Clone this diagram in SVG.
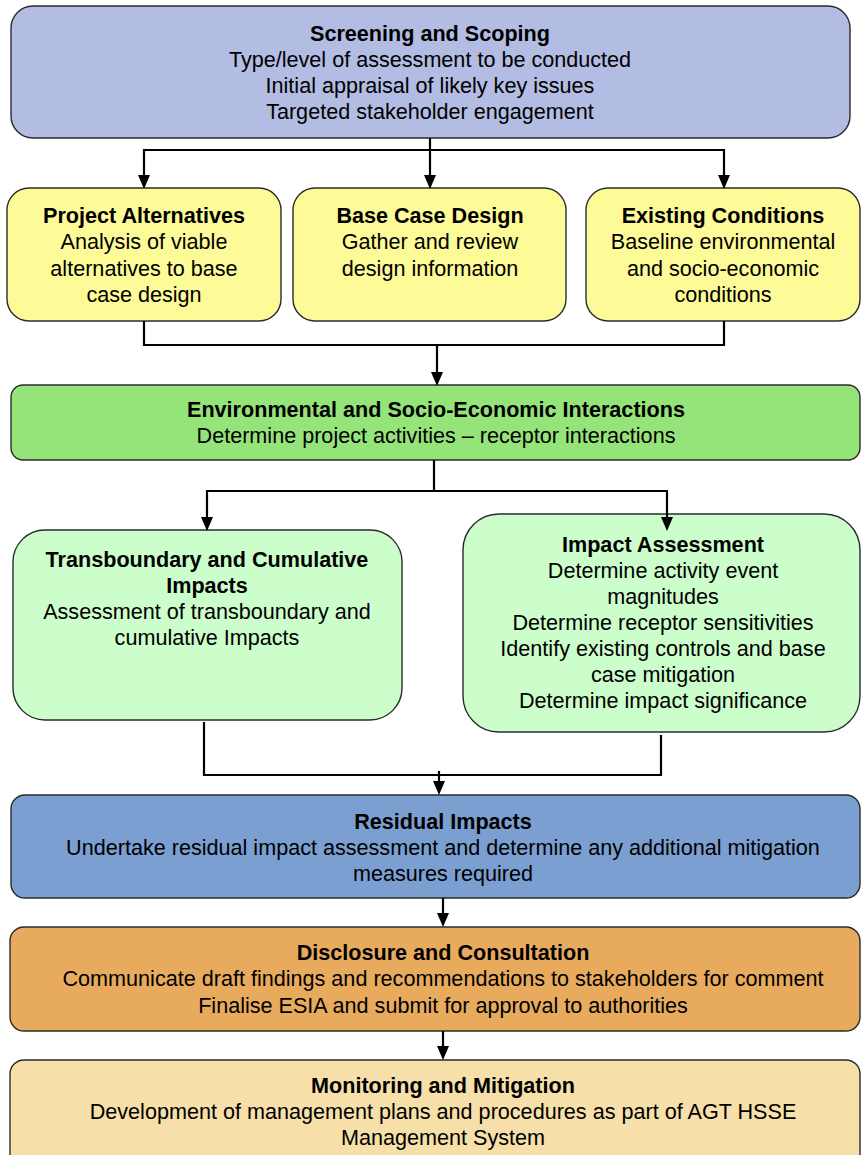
<svg xmlns="http://www.w3.org/2000/svg" width="861" height="1155" viewBox="0 0 861 1155">
  <style>
    .box { stroke: #2b2b2b; stroke-width: 1.4; }
    .t { font-family: "Liberation Sans", Arial, sans-serif; font-size: 21.6px; fill: #000; text-anchor: middle; }
    .b { font-weight: bold; }
    .wire { fill: none; stroke: #000; stroke-width: 2.2; }
  </style>
  <rect width="861" height="1155" fill="#fff"/>

  <g id="screening">
    <rect class="box" x="11" y="6" width="839" height="132" rx="22" fill="#b3bce3"/>
    <text class="t b" x="430" y="41">Screening and Scoping</text>
    <text class="t" x="430" y="67">Type/level of assessment to be conducted</text>
    <text class="t" x="430" y="93">Initial appraisal of likely key issues</text>
    <text class="t" x="430" y="119">Targeted stakeholder engagement</text>
  </g>

  <g id="alternatives">
    <rect class="box" x="7" y="188" width="274" height="133" rx="22" fill="#fdfa98"/>
    <text class="t b" x="144" y="223">Project Alternatives</text>
    <text class="t" x="144" y="249">Analysis of viable</text>
    <text class="t" x="144" y="276">alternatives to base</text>
    <text class="t" x="144" y="302">case design</text>
  </g>

  <g id="basecase">
    <rect class="box" x="293" y="188" width="273" height="133" rx="22" fill="#fdfa98"/>
    <text class="t b" x="430" y="223">Base Case Design</text>
    <text class="t" x="430" y="249">Gather and review</text>
    <text class="t" x="430" y="276">design information</text>
  </g>

  <g id="existing">
    <rect class="box" x="586" y="188" width="274" height="133" rx="22" fill="#fdfa98"/>
    <text class="t b" x="723" y="223">Existing Conditions</text>
    <text class="t" x="723" y="249">Baseline environmental</text>
    <text class="t" x="723" y="276">and socio-economic</text>
    <text class="t" x="723" y="302">conditions</text>
  </g>

  <g id="interactions">
    <rect class="box" x="11" y="385" width="849" height="75" rx="12" fill="#95e47a"/>
    <text class="t b" x="436" y="417">Environmental and Socio-Economic Interactions</text>
    <text class="t" x="436" y="443">Determine project activities – receptor interactions</text>
  </g>

  <g id="transboundary">
    <rect class="box" x="13" y="530" width="389" height="190" rx="32" fill="#ccfecb"/>
    <text class="t b" x="207" y="567">Transboundary and Cumulative</text>
    <text class="t b" x="207" y="593">Impacts</text>
    <text class="t" x="207" y="619">Assessment of transboundary and</text>
    <text class="t" x="207" y="645">cumulative Impacts</text>
  </g>

  <g id="impact">
    <rect class="box" x="463" y="514" width="397" height="218" rx="36" fill="#ccfecb"/>
    <text class="t b" x="663" y="552">Impact Assessment</text>
    <text class="t" x="663" y="578">Determine activity event</text>
    <text class="t" x="663" y="604">magnitudes</text>
    <text class="t" x="663" y="630">Determine receptor sensitivities</text>
    <text class="t" x="663" y="656">Identify existing controls and base</text>
    <text class="t" x="663" y="682">case mitigation</text>
    <text class="t" x="663" y="708">Determine impact significance</text>
  </g>

  <g id="residual">
    <rect class="box" x="11" y="795" width="849" height="103" rx="14" fill="#7b9fd1"/>
    <text class="t b" x="443" y="829">Residual Impacts</text>
    <text class="t" x="443" y="855">Undertake residual impact assessment and determine any additional mitigation</text>
    <text class="t" x="443" y="881">measures required</text>
  </g>

  <g id="disclosure">
    <rect class="box" x="10" y="927" width="850" height="104" rx="14" fill="#e8ab5e"/>
    <text class="t b" x="443" y="960">Disclosure and Consultation</text>
    <text class="t" x="443" y="986">Communicate draft findings and recommendations to stakeholders for comment</text>
    <text class="t" x="443" y="1013">Finalise ESIA and submit for approval to authorities</text>
  </g>

  <g id="monitoring">
    <rect class="box" x="10" y="1060" width="850" height="110" rx="14" fill="#f6dfa8"/>
    <text class="t b" x="443" y="1093">Monitoring and Mitigation</text>
    <text class="t" x="443" y="1119">Development of management plans and procedures as part of AGT HSSE</text>
    <text class="t" x="443" y="1145">Management System</text>
  </g>

  <!-- connectors drawn over the boxes so arrow tips stay visible -->
  <g id="connectors">
    <path class="wire" d="M430,138 V176"/>
    <path class="wire" d="M144,176 V150 H724 V176"/>
    <path class="wire" d="M144,321 V345 H724 V321"/>
    <path class="wire" d="M437,345 V373"/>
    <path class="wire" d="M434,460 V491"/>
    <path class="wire" d="M207,518 V491 H667 V518"/>
    <path class="wire" d="M204,722 V775 H661 V735"/>
    <path class="wire" d="M439,771 V782"/>
    <path class="wire" d="M443,898 V914"/>
    <path class="wire" d="M443,1031 V1047"/>
    <g fill="#000">
      <path d="M138,175 L150,175 L144,189 Z"/>
      <path d="M424,175 L436,175 L430,189 Z"/>
      <path d="M718,175 L730,175 L724,189 Z"/>
      <path d="M431,372 L443,372 L437,386 Z"/>
      <path d="M201,517 L213,517 L207,531 Z"/>
      <path d="M661,517 L673,517 L667,531 Z"/>
      <path d="M433,781 L445,781 L439,795 Z"/>
      <path d="M437,913 L449,913 L443,927 Z"/>
      <path d="M437,1046 L449,1046 L443,1060 Z"/>
    </g>
  </g>
</svg>
